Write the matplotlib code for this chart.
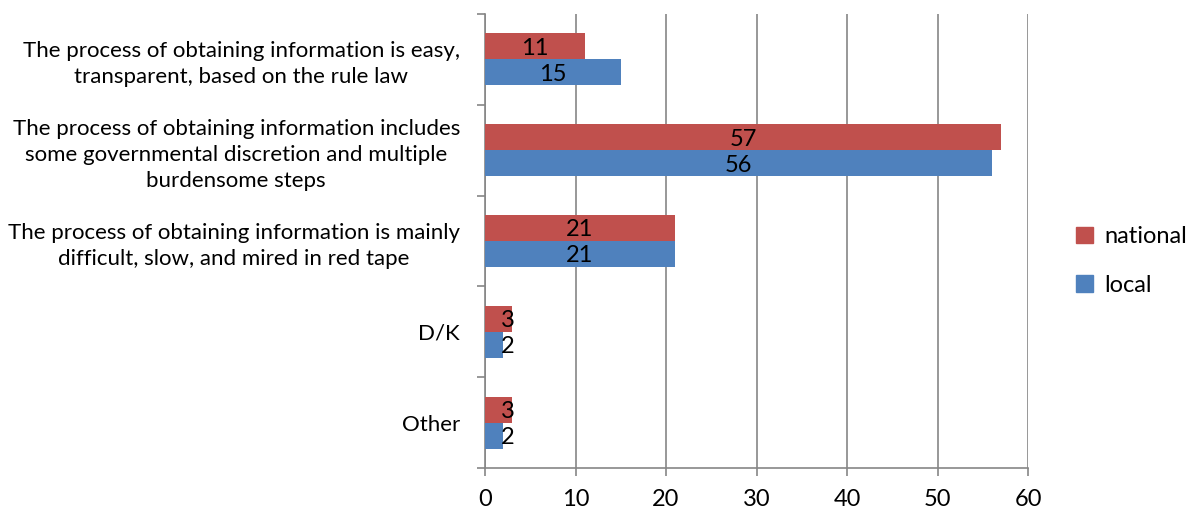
import numpy as np
import matplotlib
matplotlib.use("Agg")
import matplotlib.pyplot as plt
from matplotlib.patches import Patch

# =============================
# DATA
# =============================
CATEGORIES = [
    "The process of obtaining information is easy,\ntransparent, based on the rule law",
    "The process of obtaining information includes\nsome governmental discretion and multiple\nburdensome steps",
    "The process of obtaining information is mainly\ndifficult, slow, and mired in red tape",
    "D/K",
    "Other",
]
NATIONAL = [11, 57, 21, 3, 3]
LOCAL = [15, 56, 21, 2, 2]
SERIES_NAMES = ["national", "local"]
X_TICKS = [0, 10, 20, 30, 40, 50, 60]

# =============================
# STYLE
# =============================
RED = "#C0504D"
BLUE = "#4F81BD"
GRID = "#868686"
FONT = "Lato"
FS = 16
BAR_H = 0.286

plt.rcParams["font.family"] = [FONT, "DejaVu Sans"]

fig = plt.figure(figsize=(11.94, 5.13), dpi=100)
ax = fig.add_axes([485 / 1194, 1 - 468 / 513, 543 / 1194, 454 / 513])

y = np.arange(len(CATEGORIES))

bars_nat = ax.barh(y - BAR_H / 2, NATIONAL, height=BAR_H, color=RED, zorder=3)
bars_loc = ax.barh(y + BAR_H / 2, LOCAL, height=BAR_H, color=BLUE, zorder=3)

for bars, vals in ((bars_nat, NATIONAL), (bars_loc, LOCAL)):
    for b, v in zip(bars, vals):
        cy = b.get_y() + b.get_height() / 2 + 0.02
        if v < 5:
            # short bars: label pushed to the right of the axis
            ax.text(1.8, cy, str(v), ha="left", va="center",
                    fontsize=FS + 1, color="black", zorder=4)
        else:
            ax.text(v / 2, cy, str(v), ha="center", va="center",
                    fontsize=FS + 1, color="black", zorder=4)

ax.set_xlim(0, 60)
ax.set_ylim(len(CATEGORIES) - 0.5, -0.5)

ax.set_xticks(X_TICKS)
ax.set_xticklabels([str(t) for t in X_TICKS], fontsize=FS + 1)
ax.set_yticks(np.arange(len(CATEGORIES) + 1) - 0.5)
ax.set_yticklabels([])
ax.set_yticks(y, minor=True)
ax.set_yticklabels(CATEGORIES, minor=True, fontsize=FS, ha="right",
                   multialignment="center", linespacing=1.35)

ax.tick_params(axis="x", direction="out", length=6, width=1.2, color=GRID, pad=9)
ax.tick_params(axis="y", which="major", direction="out", length=6, width=1.2, color=GRID)
ax.tick_params(axis="y", which="minor", length=0, pad=18)

ax.grid(axis="x", color=GRID, linewidth=1.2, zorder=0)
ax.set_axisbelow(True)

for side in ("top", "right"):
    ax.spines[side].set_visible(False)
for side in ("left", "bottom"):
    ax.spines[side].set_color(GRID)
    ax.spines[side].set_linewidth(1.2)

handles = [Patch(color=RED), Patch(color=BLUE)]
fig.legend(handles, SERIES_NAMES, loc="center left",
           bbox_to_anchor=(1076 / 1194, 1 - 261 / 513),
           frameon=False, fontsize=FS + 1, handlelength=0.7, handleheight=0.7,
           handletextpad=0.5, labelspacing=1.15, borderpad=0, borderaxespad=0)

fig.savefig("out.png", dpi=100)
